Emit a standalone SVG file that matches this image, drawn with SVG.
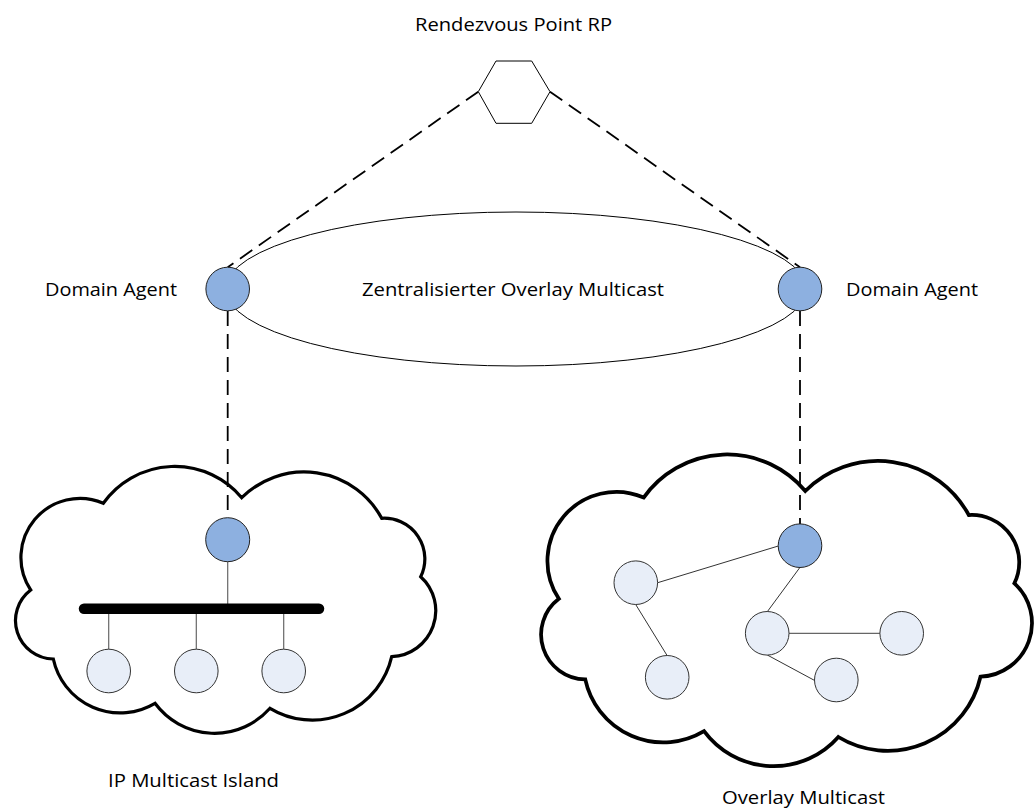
<svg xmlns="http://www.w3.org/2000/svg" width="1035" height="809" viewBox="0 0 1035 809">
  <defs>
    <style>
      .lbl { font-family: "Open Sans", "Liberation Sans", sans-serif; font-size: 18px; fill: #000; }
      .cloud { fill: #fff; stroke: #000; stroke-width: 3.2; stroke-linejoin: miter; vector-effect: non-scaling-stroke; }
      .agent { fill: #8DB0E0; stroke: #222; stroke-width: 1; }
      .host { fill: #E8EEF8; stroke: #333; stroke-width: 1; }
      .dash { fill: none; stroke: #000; stroke-width: 1.8; stroke-dasharray: 15 8; }
      .thin { fill: none; stroke: #333; stroke-width: 1; }
      .gray { fill: none; stroke: #666; stroke-width: 1.2; }
    </style>
    <path id="cloudShape" d="M 103.3 503.3 A 87.5 87.5 0 0 1 241.7 497.7 A 88.3 88.3 0 0 1 381.7 518.3 A 40.6 40.6 0 0 1 420.7 576.7 A 46 46 0 0 1 391.7 656.7 A 81.5 81.5 0 0 1 270 708.3 A 74 74 0 0 1 155 703.3 A 68.3 68.3 0 0 1 53.3 659 A 38.4 38.4 0 0 1 30.7 590 A 59 59 0 0 1 103.3 503.3 Z"/>
  </defs>

  <!-- Clouds -->
  <g id="ip-multicast-island">
    <use href="#cloudShape" class="cloud"/>
    <text class="lbl" x="108" y="786.5" textLength="171" lengthAdjust="spacingAndGlyphs">IP Multicast Island</text>
  </g>
  <g id="overlay-multicast">
    <use href="#cloudShape" class="cloud" transform="translate(523 -90.3) scale(1.168)"/>
    <text class="lbl" x="722" y="803.5" textLength="163" lengthAdjust="spacingAndGlyphs">Overlay Multicast</text>
  </g>

  <!-- Centralized overlay ellipse -->
  <g id="central-overlay">
    <ellipse cx="516" cy="289" rx="290.5" ry="77" fill="none" stroke="#000" stroke-width="1"/>
    <text class="lbl" x="362" y="296" textLength="302" lengthAdjust="spacingAndGlyphs">Zentralisierter Overlay Multicast</text>
  </g>

  <!-- Connectors -->
  <g id="connectors">
    <line class="dash" x1="478.3" y1="91.7" x2="227.7" y2="267.3"/>
    <line class="dash" x1="550" y1="91.7" x2="800" y2="267.3"/>
    <line class="dash" x1="227.7" y1="311" x2="227.7" y2="517.7"/>
    <line class="dash" x1="800" y1="311" x2="800" y2="524"/>
    <!-- IP multicast island -->
    <line class="gray" x1="227.7" y1="561.7" x2="227.7" y2="604"/>
    <line x1="84" y1="608.7" x2="319" y2="608.7" stroke="#000" stroke-width="10.5" stroke-linecap="round"/>
    <line class="gray" x1="108.7" y1="614" x2="108.7" y2="649.3"/>
    <line class="gray" x1="196.3" y1="614" x2="196.3" y2="649.3"/>
    <line class="gray" x1="283.7" y1="614" x2="283.7" y2="649.3"/>
    <!-- overlay multicast -->
    <line class="thin" x1="778.3" y1="546" x2="657.7" y2="582.7"/>
    <line class="thin" x1="800" y1="567.3" x2="767.3" y2="611.7"/>
    <line class="thin" x1="636" y1="605" x2="667.2" y2="655.7"/>
    <line class="gray" x1="789" y1="633.3" x2="880" y2="633.3"/>
    <line class="thin" x1="767.3" y1="655" x2="814.3" y2="680.3"/>
  </g>

  <!-- Rendezvous point -->
  <g id="rendezvous-point">
    <polygon points="478.3,91.7 496,61 531.7,61 550,91.7 531.7,123.3 496,123.3" fill="#fff" stroke="#000" stroke-width="1"/>
    <text class="lbl" x="415" y="31" textLength="197" lengthAdjust="spacingAndGlyphs">Rendezvous Point RP</text>
  </g>

  <!-- Domain agents -->
  <g id="domain-agent-left">
    <circle class="agent" cx="227.7" cy="289" r="21.8"/>
    <text class="lbl" x="45" y="296" textLength="132" lengthAdjust="spacingAndGlyphs">Domain Agent</text>
  </g>
  <g id="domain-agent-right">
    <circle class="agent" cx="800" cy="289" r="21.8"/>
    <text class="lbl" x="846" y="296" textLength="132" lengthAdjust="spacingAndGlyphs">Domain Agent</text>
  </g>

  <!-- IP island nodes -->
  <g id="ip-gateway"><circle class="agent" cx="227.7" cy="539.7" r="22"/></g>
  <g id="ip-host-1"><circle class="host" cx="108.7" cy="671" r="21.8"/></g>
  <g id="ip-host-2"><circle class="host" cx="196.3" cy="671" r="21.8"/></g>
  <g id="ip-host-3"><circle class="host" cx="283.7" cy="671" r="21.8"/></g>

  <!-- Overlay nodes -->
  <g id="ov-gateway"><circle class="agent" cx="800" cy="545.7" r="21.8"/></g>
  <g id="ov-a"><circle class="host" cx="635.8" cy="582.7" r="21.8"/></g>
  <g id="ov-b"><circle class="host" cx="667.2" cy="677.3" r="21.8"/></g>
  <g id="ov-c"><circle class="host" cx="767.2" cy="633.3" r="21.8"/></g>
  <g id="ov-d"><circle class="host" cx="901.7" cy="633.3" r="21.8"/></g>
  <g id="ov-e"><circle class="host" cx="836.3" cy="680" r="21.8"/></g>
</svg>
